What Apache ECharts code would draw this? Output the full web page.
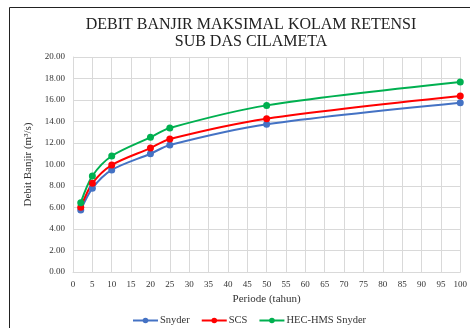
<!DOCTYPE html>
<html>
<head>
<meta charset="utf-8">
<script src="https://cdn.jsdelivr.net/npm/echarts@6/dist/echarts.min.js"></script>
<style>
  html, body { margin: 0; padding: 0; background: #fff; }
  #chart { width: 470px; height: 328px; }
</style>
</head>
<body>
<div id="chart"></div>
<script>
// Return periods (years) and peak flood discharge (m3/s) per method
const periods = [2, 5, 10, 20, 25, 50, 100];
const snyder = [5.77, 7.78, 9.49, 11.00, 11.81, 13.74, 15.75];
const scs = [6.02, 8.25, 9.95, 11.53, 12.37, 14.26, 16.37];
const hecHmsSnyder = [6.45, 8.93, 10.79, 12.53, 13.40, 15.50, 17.67];

const seriesNames = ['Snyder', 'SCS', 'HEC-HMS Snyder'];
const seriesColors = ['#4472C4', '#FF0000', '#00B050'];

const serif = '"Liberation Serif", "DejaVu Serif", serif';

function pairs(values) {
  return periods.map((p, i) => [p, values[i]]);
}

const chart = echarts.init(document.getElementById('chart'));
chart.setOption({
  animation: false,
  title: {
    text: 'DEBIT BANJIR MAKSIMAL KOLAM RETENSI\nSUB DAS CILAMETA',
    left: 246,
    textAlign: 'center',
    top: 11,
    textStyle: {
      fontFamily: serif,
      fontSize: 16,
      fontWeight: 'normal',
      color: '#222',
      lineHeight: 17
    }
  },
  graphic: [{
    type: 'rect',
    shape: { x: 9.5, y: 7.5, width: 800, height: 800 },
    style: { fill: 'none', stroke: '#222', lineWidth: 1 },
    silent: true
  }],
  legend: {
    bottom: -3,
    left: 127,
    itemWidth: 25,
    itemHeight: 7,
    itemGap: 11,
    textStyle: { fontFamily: serif, fontSize: 10.5, color: '#333', padding: [0, 0, 0, -3] },
    data: seriesNames
  },
  grid: { left: 73, right: 9, top: 57, bottom: 56 },
  xAxis: {
    type: 'value',
    min: 0, max: 100, interval: 5,
    name: 'Periode (tahun)',
    nameLocation: 'middle',
    nameGap: 21,
    nameTextStyle: { fontFamily: serif, fontSize: 11, color: '#333' },
    axisLine: { show: true, lineStyle: { color: '#d9d9d9' } },
    axisTick: { show: false },
    axisLabel: { fontFamily: serif, fontSize: 9, color: '#333', margin: 8 },
    splitLine: { show: true, lineStyle: { color: '#d9d9d9', width: 1 } }
  },
  yAxis: {
    type: 'value',
    min: 0, max: 20, interval: 2,
    name: 'Debit Banjir (m³/s)',
    nameLocation: 'middle',
    nameGap: 28,
    nameTextStyle: { fontFamily: serif, fontSize: 11, color: '#333' },
    axisLine: { show: true, lineStyle: { color: '#d9d9d9' } },
    axisTick: { show: false },
    axisLabel: {
      fontFamily: serif, fontSize: 9, color: '#333', margin: 8,
      formatter: v => v.toFixed(2)
    },
    splitLine: { show: true, lineStyle: { color: '#d9d9d9', width: 1 } }
  },
  series: [snyder, scs, hecHmsSnyder].map((vals, i) => ({
    name: seriesNames[i],
    type: 'line',
    data: pairs(vals),
    smooth: 0.3,
    symbol: 'circle',
    symbolSize: 7,
    itemStyle: { color: seriesColors[i] },
    lineStyle: { color: seriesColors[i], width: 2 }
  }))
});
</script>
</body>
</html>
